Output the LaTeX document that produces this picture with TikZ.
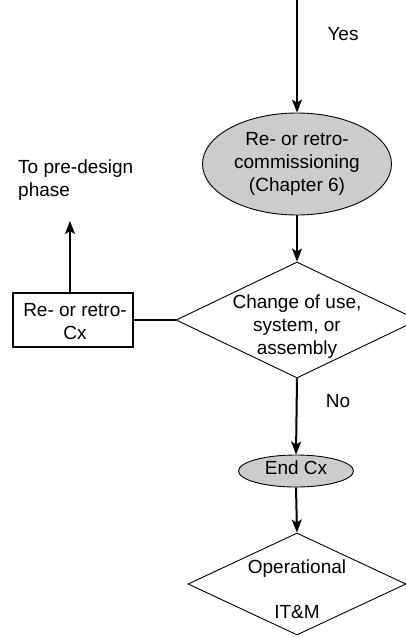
\documentclass[tikz,border=0pt]{standalone}
\usepackage{fontspec}
\setmainfont{Liberation Sans}
\usetikzlibrary{shapes.geometric,arrows.meta}
\begin{document}
\begin{tikzpicture}[x=1pt,y=-1pt,
  every node/.style={font=\fontsize{19}{23}\selectfont, inner sep=0pt},
  flow/.style={line width=2pt, -{Stealth[length=13pt,width=10pt,inset=3pt]}},
  plain/.style={line width=2pt},
  oval/.style={ellipse, draw, line width=0.9pt, fill=black!20},
  decision/.style={diamond, draw, line width=0.9pt},
  rectbox/.style={rectangle, draw, line width=1.8pt},
  txt/.style={align=center}]
\useasboundingbox (0,0) rectangle (406,637);
\coordinate (top) at (297,0);
\node[oval, minimum width=189pt, minimum height=102pt] (e1) at (297,164) {};
\node[txt] (e1t) at (297,164) {Re- or retro-\\commissioning\\(Chapter 6)};
\node[decision, minimum width=242pt, minimum height=116pt] (d1) at (297,320) {};
\node[txt] (d1t) at (297,327) {Change of use,\\system, or\\assembly};
\node[rectbox, minimum width=120pt, minimum height=54pt] (box) at (73,320) {};
\node[txt] (boxt) at (75,322) {Re- or retro-\\Cx};
\coordinate (up) at (70,221);
\node[align=left, anchor=north west] (pre) at (18,160) {To pre-design\\phase};
\node[oval, minimum width=115pt, minimum height=32pt] (e2) at (296,471) {};
\node (e2t) at (296,468) {End Cx};
\node[decision, minimum width=218pt, minimum height=102pt] (d2) at (297,584) {};
\node[txt] (d2t) at (297,589) {Operational\\[22pt]IT\&M};
\node (yes) at (343,34) {Yes};
\node (no) at (338,401) {No};
\draw[flow] (top) -- (e1.north);
\draw[flow] (e1.south) -- (d1.north);
\draw[plain] (d1.west) -- (box.east);
\draw[flow] (box.north -| up) -- (up);
\draw[flow] (d1.south) -- (e2.north);
\draw[flow] (e2.south) -- (d2.north);
\end{tikzpicture}
\end{document}
